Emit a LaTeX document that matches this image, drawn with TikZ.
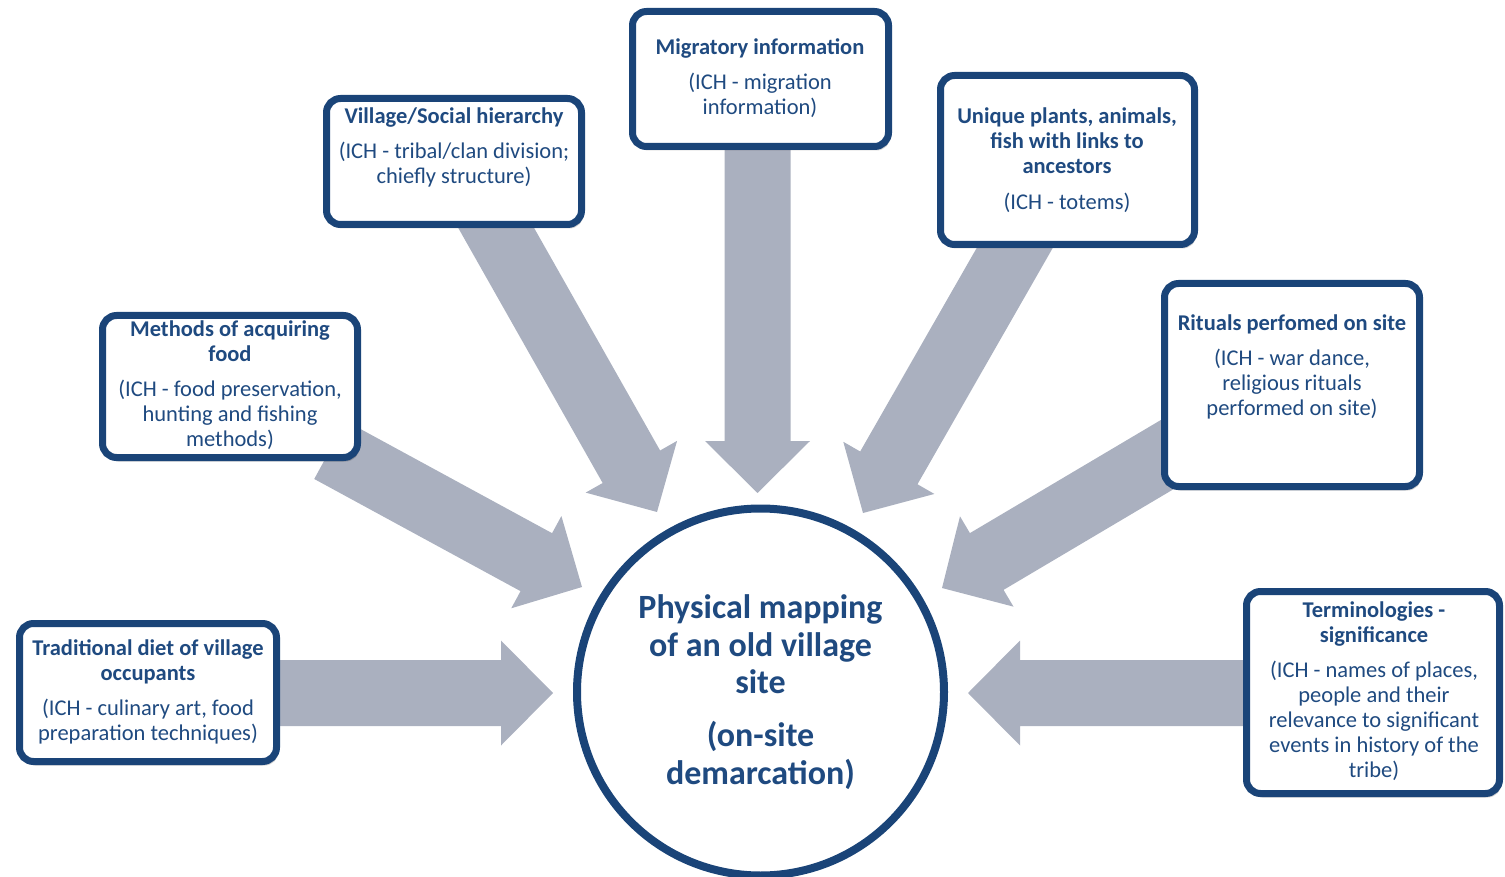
\documentclass[tikz,border=0pt]{standalone}
\usepackage{fontspec}
\setmainfont{Carlito}
\usetikzlibrary{calc,shadows}
\definecolor{boxline}{HTML}{1A4478}
\definecolor{boxtext}{HTML}{1F4A80}
\definecolor{arrowgray}{HTML}{AAB0BF}
\tikzset{
  box/.style={draw=boxline, line width=7pt, fill=white, rounded corners=14pt,
    inner sep=0pt, drop shadow={shadow xshift=2pt, shadow yshift=-4pt, opacity=0.18, fill=black}},
  boxtxt/.style={align=center, text=boxtext, inner sep=0pt,
    font=\fontsize{22.5}{25}\selectfont},
  hub/.style={circle, draw=boxline, line width=8pt, fill=white, inner sep=0pt,
    minimum size=367pt, align=center, text=boxtext,
    font=\bfseries\fontsize{34}{37.5}\selectfont},
  blockfill/.style={fill=arrowgray}
}
\newcommand\blockarrow[2]{%
  \coordinate (hb) at ($(#2)!52pt!(#1)$);
  \fill[blockfill] ($(#1)!33pt!90:(#2)$) -- ($(hb)!33pt!90:(#2)$) -- ($(hb)!52.5pt!90:(#2)$)
    -- (#2) -- ($(hb)!52.5pt!-90:(#2)$) -- ($(hb)!33pt!-90:(#2)$) -- ($(#1)!33pt!-90:(#2)$) -- cycle;
}
\begin{document}
\begin{tikzpicture}[x=1pt, y=-1pt]
\useasboundingbox (0,0) rectangle (1505,877);

% arrow end points
\coordinate (s1) at (270,693);   \coordinate (e1) at (553,693);
\coordinate (s2) at (330,450);   \coordinate (e2) at (582,587);
\coordinate (s3) at (486,210);   \coordinate (e3) at (657,512);
\coordinate (s4) at (757.5,140); \coordinate (e4) at (757.5,493);
\coordinate (s5) at (1025,230);  \coordinate (e5) at (863,513);
\coordinate (s6) at (1180,447);  \coordinate (e6) at (942,588);
\coordinate (s7) at (1255,693);  \coordinate (e7) at (968,693);

\blockarrow{s1}{e1}
\blockarrow{s2}{e2}
\blockarrow{s3}{e3}
\blockarrow{s4}{e4}
\blockarrow{s5}{e5}
\blockarrow{s6}{e6}
\blockarrow{s7}{e7}

% boxes
\node[box, minimum width=257pt, minimum height=138pt] (b1) at (148,692.5) {};
\node[box, minimum width=255pt, minimum height=142pt] (b2) at (230,386.5) {};
\node[box, minimum width=255pt, minimum height=126pt] (b3) at (454,161.5) {};
\node[box, minimum width=256pt, minimum height=135pt] (b4) at (760.5,79) {};
\node[box, minimum width=254pt, minimum height=169pt] (b5) at (1067.5,160) {};
\node[box, minimum width=255pt, minimum height=203pt] (b6) at (1292,385) {};
\node[box, minimum width=253pt, minimum height=202pt] (b7) at (1373,692.5) {};

\node[boxtxt] (t1) at (148,691.5) {\textbf{Traditional diet of village}\\\textbf{occupants}\\[10pt](ICH - culinary art, food\\preparation techniques)};
\node[boxtxt] (t2) at (230,385) {\textbf{Methods of acquiring}\\\textbf{food}\\[10pt](ICH - food preservation,\\hunting and fishing\\methods)};
\node[boxtxt] (t3) at (454,147) {\textbf{Village/Social hierarchy}\\[10pt](ICH - tribal/clan division;\\chiefly structure)};
\node[boxtxt] (t4) at (760,78) {\textbf{Migratory information}\\[10pt](ICH - migration\\information)};
\node[boxtxt] (t5) at (1067,160) {\textbf{Unique plants, animals,}\\\textbf{fish with links to}\\\textbf{ancestors}\\[10.5pt](ICH - totems)};
\node[boxtxt] (t6) at (1292,367) {\textbf{Rituals perfomed on site}\\[10pt](ICH - war dance,\\religious rituals\\performed on site)};
\node[boxtxt] (t7) at (1374,691) {\textbf{Terminologies -}\\\textbf{significance}\\[10.5pt](ICH - names of places,\\people and their\\relevance to significant\\events in history of the\\tribe)};

% hub
\node[hub] (hub) at (760.5,692) {Physical mapping\\of an old village\\site\\[15.5pt](on-site\\demarcation)};
\end{tikzpicture}
\end{document}
